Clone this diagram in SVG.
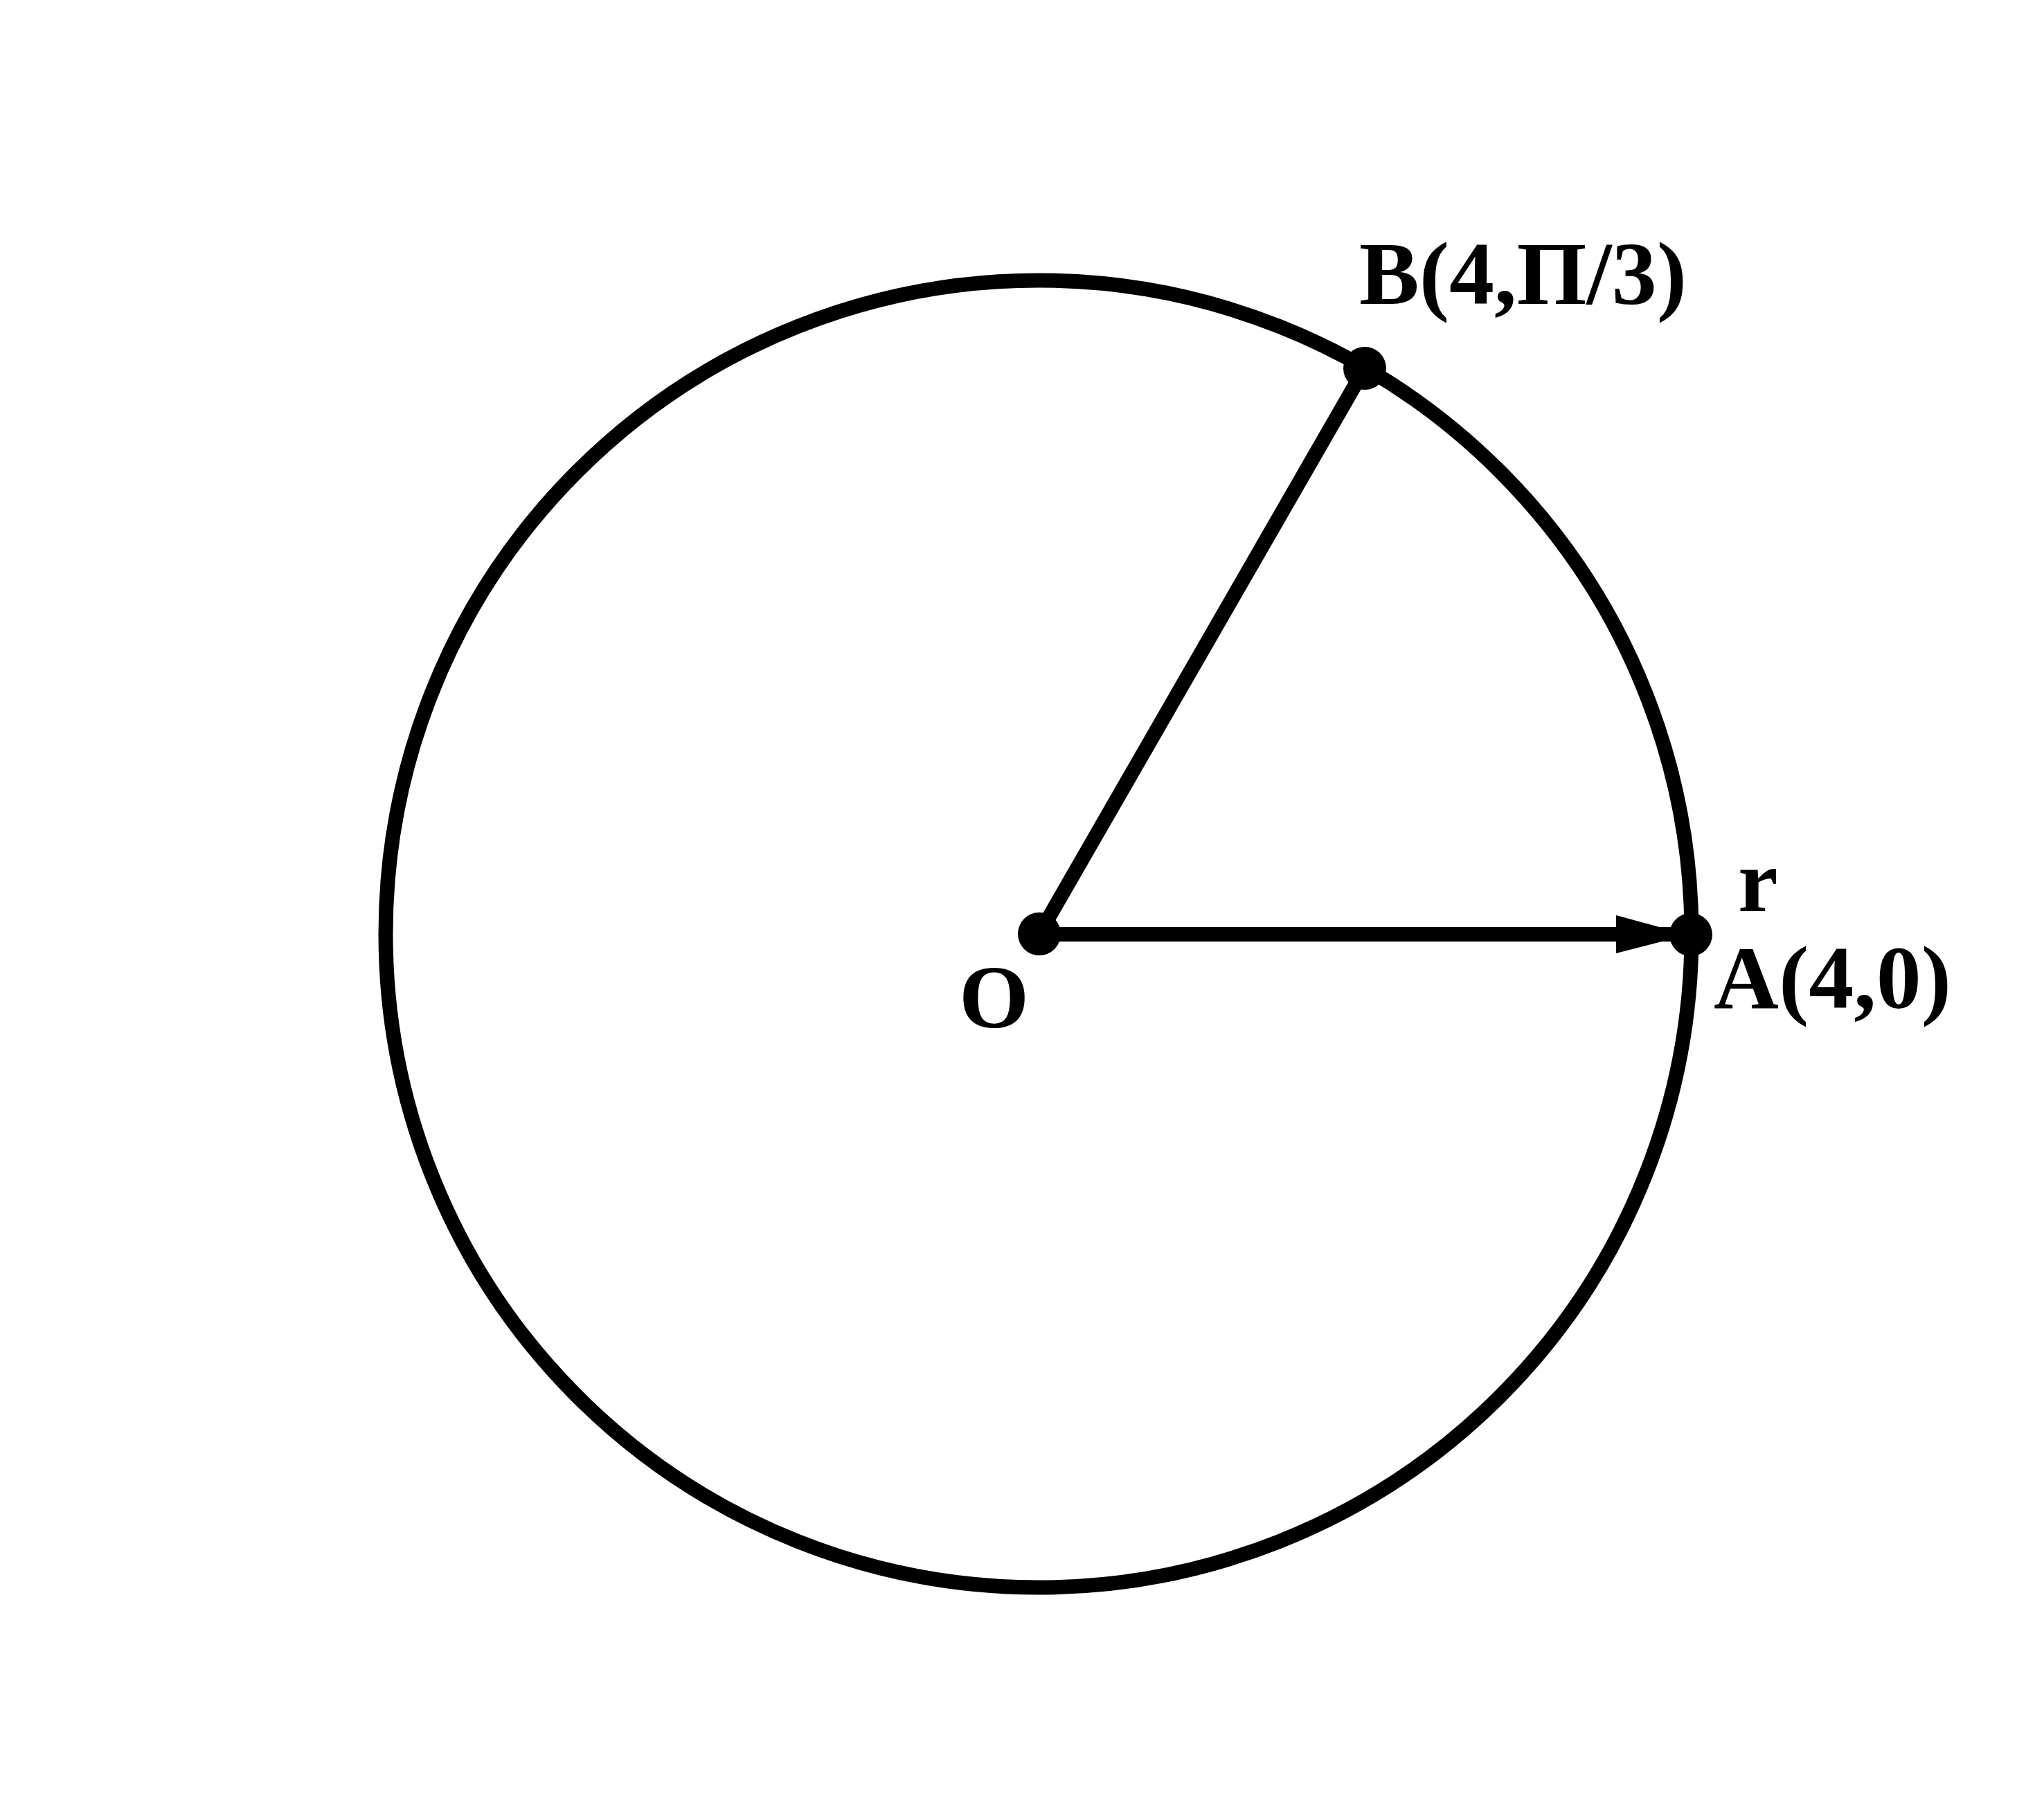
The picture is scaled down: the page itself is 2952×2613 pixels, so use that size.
<svg xmlns="http://www.w3.org/2000/svg" width="2952" height="2613" viewBox="0 0 2952 2613">
<style>
.lbl{font-family:"Liberation Serif","Times New Roman",serif;font-weight:bold;font-size:130px;fill:#000}
.ln{stroke:#000;stroke-width:21;fill:none}
</style>
<rect width="2952" height="2613" fill="#fff"/>
<g id="circle"><ellipse cx="1500" cy="1349" rx="943" ry="944" class="ln"/></g>
<g id="connectors">
<line x1="1501" y1="1349" x2="1971" y2="532" class="ln"/>
<line x1="1501" y1="1349.5" x2="2420" y2="1349.5" class="ln"/>
<polygon points="2334,1322 2400,1340 2420,1340 2420,1360 2400,1360 2334,1377" fill="#000"/>
</g>
<g id="O"><circle cx="1501" cy="1349" r="31" fill="#000"/><text class="lbl" x="1385" y="1484">O</text></g>
<g id="A"><circle cx="2442" cy="1350" r="31" fill="#000"/><text class="lbl" x="2475" y="1456">A(4,0)</text></g>
<g id="B"><circle cx="1971" cy="532" r="31" fill="#000"/><text class="lbl" x="1963" y="439">B(4,Π/3)</text></g>
<g id="r"><text class="lbl" x="2510" y="1316">r</text></g>
</svg>
